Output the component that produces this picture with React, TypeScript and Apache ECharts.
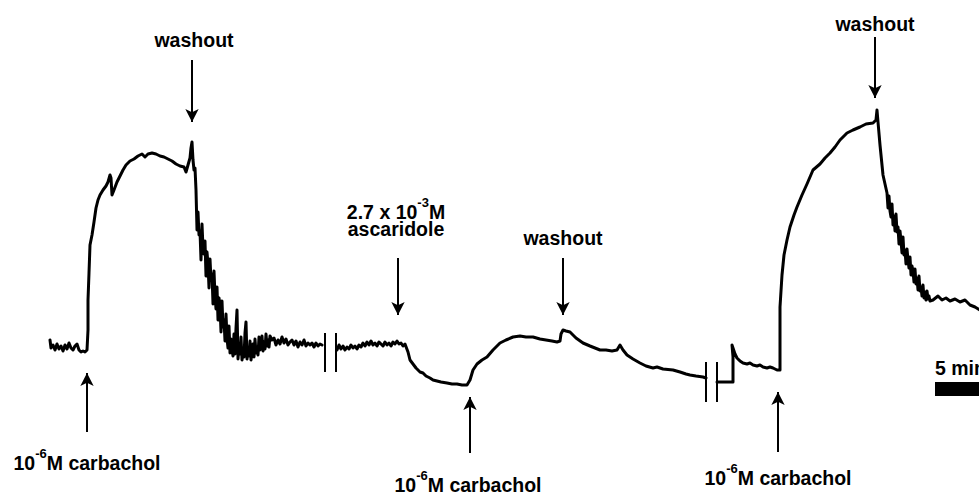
import React, { useEffect, useRef } from "react";
import * as echarts from "echarts";

// time in minutes, tension in arbitrary units
const segment1: [number, number][] = [
  [0,6.0],[0.1,5.2],[0.3,5.5],[0.5,5.0],[0.7,5.6],[0.9,5.1],[1.1,5.4],[1.3,4.9],[1.5,5.5],[1.7,5.1],[1.9,5.7],[2.1,5.2],[2.3,5.0],[2.5,5.4],[2.7,5.6],[2.9,5.0],[3.1,4.8],[3.3,4.9],[3.5,4.8],[3.7,5.0],
  [3.8,7.0],[3.8,10.0],[3.9,12.7],[4.0,15.5],[4.2,16.5],[4.4,17.8],[4.6,19.2],[4.8,20.0],[5.0,20.5],[5.3,21.0],[5.6,21.4],[5.8,21.8],[6.0,22.5],[6.1,22.2],[6.2,20.5],[6.4,21.0],[6.7,21.8],[7.0,22.4],[7.3,23.0],[7.6,23.5],[8.0,23.9],[8.4,24.1],[8.8,24.4],[9.2,24.6],[9.5,24.3],[9.8,24.6],[10.2,24.7],[10.6,24.6],[11.0,24.4],[11.4,24.3],[11.8,24.1],[12.2,23.9],[12.6,23.6],[13.0,23.4],[13.4,23.3],[13.6,22.8],[13.8,23.5],[14.0,24.2],[14.1,25.2],[14.2,25.8],[14.3,24.0],[14.4,23.0],[14.5,23.2],
  [14.6,21.0],[14.7,17.0],[14.8,18.8],[14.9,16.5],[15.0,16.9],[15.1,14.0],[15.2,17.6],[15.3,15.2],[15.4,14.6],[15.5,15.9],[15.6,12.4],[15.7,14.8],[15.8,13.6],[15.9,11.2],[16.0,14.1],[16.1,12.0],[16.2,12.6],[16.3,9.6],[16.4,12.9],[16.5,10.4],[16.6,9.1],[16.7,11.3],[16.8,8.0],[16.9,10.2],[17.0,9.4],[17.1,6.8],[17.2,9.9],[17.3,7.3],[17.4,8.0],[17.5,5.9],[17.6,8.6],[17.7,6.2],[17.8,5.2],[17.9,7.4],[18.0,4.7],[18.1,6.1],[18.2,5.0],[18.3,4.4],[18.4,6.6],[18.5,4.6],[18.6,7.2],[18.7,9.0],[18.8,4.1],[18.9,5.4],[19.0,4.6],[19.1,6.3],[19.2,4.0],[19.3,4.9],[19.4,4.3],[19.5,6.7],[19.6,7.8],[19.7,4.1],[19.8,5.2],[19.9,4.4],[20.0,5.9],
  [20.1,4.0],[20.2,4.8],[20.3,5.6],[20.4,4.3],[20.5,6.1],[20.6,4.7],[20.7,5.3],[20.8,4.5],[20.9,6.3],[21.0,5.0],[21.1,5.5],[21.2,6.4],[21.3,4.9],[21.4,5.8],[21.5,5.1],[21.6,6.6],[21.7,5.4],[21.8,6.0],[21.9,5.3],[22.0,6.4],
  [22.2,6.0],[22.4,6.2],[22.6,5.5],[22.8,6.0],[23.0,5.6],[23.2,6.3],[23.4,5.7],[23.6,6.1],[23.8,5.5],[24.0,5.8],[24.2,6.0],[24.4,5.5],[24.6,5.9],[24.8,5.3],[25.0,5.8],[25.2,5.5],[25.4,6.0],[25.6,5.4],[25.8,5.7],[26.0,5.5],[26.2,5.7],[26.4,5.3],[26.6,5.7],[26.8,5.4],[27.0,5.6],[27.2,5.5]
];

const segment2: [number, number][] = [
  [28.7,5.0],[28.9,5.5],[29.1,5.1],[29.3,5.4],[29.5,5.0],[29.7,5.3],[29.9,5.1],[30.1,5.5],[30.3,5.2],[30.5,5.4],[30.7,5.1],[30.9,5.5],[31.1,5.3],[31.3,5.7],[31.5,5.4],[31.7,5.8],[31.9,5.5],[32.1,5.9],[32.3,5.5],[32.5,5.7],[32.7,5.4],[32.9,5.8],[33.1,5.6],[33.3,5.4],[33.5,5.8],[33.7,5.5],[33.9,5.7],[34.1,5.4],[34.3,5.8],[34.5,5.6],[34.7,5.9],[34.9,5.6],[35.1,5.7],[35.3,5.4],[35.5,5.6],
  [35.8,4.8],[36.0,4.0],[36.3,3.6],[36.6,3.2],[37.0,2.8],[37.3,2.7],[37.6,2.4],[38.0,2.2],[38.3,2.0],[38.7,1.9],[39.1,1.8],[39.7,1.7],[40.2,1.6],[40.7,1.6],[41.2,1.5],[41.7,1.5],
  [42.0,2.0],[42.3,3.0],[42.7,3.6],[43.2,4.0],[43.7,4.3],[44.3,5.0],[45.0,5.7],[45.6,6.0],[46.3,6.3],[47.0,6.4],[47.6,6.3],[48.3,6.3],[49.0,6.1],[49.6,6.0],[50.2,5.9],[50.7,5.8],[51.0,5.9],[51.1,6.6],[51.3,7.0],[51.6,6.9],[52.0,6.8],[52.6,6.2],[53.3,5.7],[54.0,5.4],[54.5,5.2],[55.0,5.0],[55.6,5.0],[56.2,4.9],[56.7,5.0],[57.0,5.5],[57.3,5.0],[57.7,4.5],[58.3,4.1],[59.0,3.7],[59.6,3.4],[60.3,3.2],[60.7,3.3],[61.3,3.1],[62.3,3.0],[63.0,2.8],[63.6,2.6],[64.0,2.5],[64.6,2.4],[65.3,2.3],[65.6,2.2]
];

const segment3: [number, number][] = [
  [66.7,1.8],[68.3,1.8],[68.3,3.0],[68.3,4.3],[68.2,5.5],[68.5,4.6],[68.7,4.2],[69.0,3.9],[69.3,3.7],[69.7,3.6],[70.0,3.7],[70.3,3.5],[70.7,3.4],[71.0,3.5],[71.3,3.3],[71.7,3.2],[72.0,3.3],[72.3,3.2],[72.7,3.0],[73.0,3.0],
  [73.0,9.3],[73.2,12.5],[73.4,14.5],[73.7,16.0],[74.0,17.3],[74.4,18.5],[74.7,19.3],[75.2,20.5],[75.7,21.6],[76.3,23.0],[77.0,23.6],[77.5,24.2],[78.0,24.7],[78.5,25.3],[79.0,26.0],[79.7,26.7],[80.3,27.0],[81.0,27.3],[81.6,27.6],[82.3,27.7],[82.6,28.0],[82.7,29.0],[82.8,27.8],
  [83.0,25.5],[83.3,22.5],[83.7,20.7],[83.8,19.2],[83.9,20.4],[84.0,18.9],[84.1,18.3],[84.2,19.6],[84.3,17.5],[84.4,18.4],[84.5,16.9],[84.6,18.6],[84.7,16.8],[84.8,17.3],[84.9,15.6],[85.0,16.9],[85.1,15.9],[85.2,14.7],[85.3,16.3],[85.4,14.5],[85.5,15.0],[85.6,13.6],[85.7,15.1],[85.8,14.0],[85.9,13.2],[86.0,14.3],[86.1,12.5],[86.2,13.4],[86.3,12.9],[86.4,11.8],[86.5,13.1],[86.6,11.6],[86.7,12.2],[86.8,11.0],[86.9,12.4],[87.0,10.9],[87.1,11.3],[87.2,10.4],[87.3,11.5],[87.4,10.2],[87.5,10.8],[87.6,10.0],[87.7,10.9],[87.8,10.1],[87.9,10.4],[88.0,9.9],
  [88.3,10.0],[88.8,10.4],[89.2,10.0],[89.6,10.2],[90.0,9.9],[90.5,10.1],[91.0,9.8],[91.5,10.0],[92.0,9.5],[92.5,9.3],[93.0,9.0]
];

// arrows: [time, tailTension, tipTension]
const arrows: [number, number, number][] = [
  [14.2, 34.0, 27.8],
  [82.5, 36.3, 30.2],
  [34.8, 14.2, 8.5],
  [51.3, 14.2, 8.5],
  [3.7, -3.2, 2.7],
  [42.0, -5.3, 0.3],
  [72.8, -5.2, 0.8],
];

// chart-break marks: [time, top, bottom]
const breaks: [number, number, number][] = [
  [27.5, 6.7, 2.8],
  [28.6, 6.7, 2.8],
  [65.6, 3.8, -0.2],
  [66.7, 3.8, -0.2],
];

// 5 min scale bar: [start, end] minutes
const scaleBar: [number, number] = [88.5, 93.5];

const FONT = '"Liberation Sans", Arial, Helvetica, sans-serif';
const FS = 19.5;

function plainText(x: number, y: number, text: string, align = "center") {
  return {
    type: "text",
    x,
    y,
    silent: true,
    style: { text, fill: "#000", fontSize: FS, fontWeight: "bold", fontFamily: FONT, align, verticalAlign: "middle" },
  };
}

function supText(x: number, y: number, pre: string, sup: string, post: string) {
  return {
    type: "text",
    x,
    y,
    silent: true,
    style: {
      text: `{a|${pre}}{b|${sup}}{a|${post}}`,
      align: "center",
      verticalAlign: "middle",
      rich: {
        a: { fontSize: FS, fontWeight: "bold", lineHeight: 26, fontFamily: FONT, fill: "#000", verticalAlign: "bottom" },
        b: { fontSize: 13, fontWeight: "bold", lineHeight: 11, fontFamily: FONT, fill: "#000", verticalAlign: "top" },
      },
    },
  };
}

export default function App() {
  const ref = useRef<HTMLDivElement>(null);
  useEffect(() => {
    if (!ref.current) return;
    const chart = echarts.init(ref.current, null, { renderer: "svg" });
    const lineStyle = { color: "#000", width: 3, join: "round", cap: "round" };
    chart.setOption({
      animation: false,
      backgroundColor: "#fff",
      grid: { left: 0, right: 0, top: 0, bottom: 0, containLabel: false },
      xAxis: { type: "value", min: -5, max: 92.9, show: false },
      yAxis: { type: "value", min: -9.2, max: 40, show: false },
      series: [
        {
          type: "line",
          data: segment1,
          showSymbol: false,
          symbol: "none",
          silent: true,
          lineStyle,
          markLine: {
            silent: true,
            symbol: ["none", "arrow"],
            symbolSize: [10, 13],
            label: { show: false },
            lineStyle: { color: "#000", width: 2, type: "solid" },
            data: arrows.map(([t, a, b]) => [{ coord: [t, a] }, { coord: [t, b] }]),
          },
        },
        {
          type: "line",
          data: segment2,
          showSymbol: false,
          symbol: "none",
          silent: true,
          lineStyle,
          markLine: {
            silent: true,
            symbol: ["none", "none"],
            label: { show: false },
            lineStyle: { color: "#000", width: 2, type: "solid" },
            data: breaks.map(([t, a, b]) => [{ coord: [t, a] }, { coord: [t, b] }]),
          },
        },
        {
          type: "line",
          data: segment3,
          showSymbol: false,
          symbol: "none",
          silent: true,
          clip: false,
          lineStyle,
          markArea: {
            silent: true,
            itemStyle: { color: "#000", opacity: 1 },
            label: { show: false },
            data: [[{ coord: [scaleBar[0], 1.8] }, { coord: [scaleBar[1], 0.4] }]],
          },
        },
      ],
      graphic: [
        plainText(194, 40, "washout"),
        plainText(875, 24, "washout"),
        plainText(563, 238, "washout"),
        supText(396, 209, "2.7 x 10", "-3", "M"),
        plainText(396, 229, "ascaridole"),
        supText(87, 460, "10", "-6", "M carbachol"),
        supText(468, 482, "10", "-6", "M carbachol"),
        supText(778, 475, "10", "-6", "M carbachol"),
        plainText(935, 368, "5 min", "left"),
      ],
    });
    return () => chart.dispose();
  }, []);
  return (
    <div
      ref={ref}
      style={{ position: "fixed", left: 0, top: 0, width: 979, height: 492, background: "#fff" }}
    />
  );
}
